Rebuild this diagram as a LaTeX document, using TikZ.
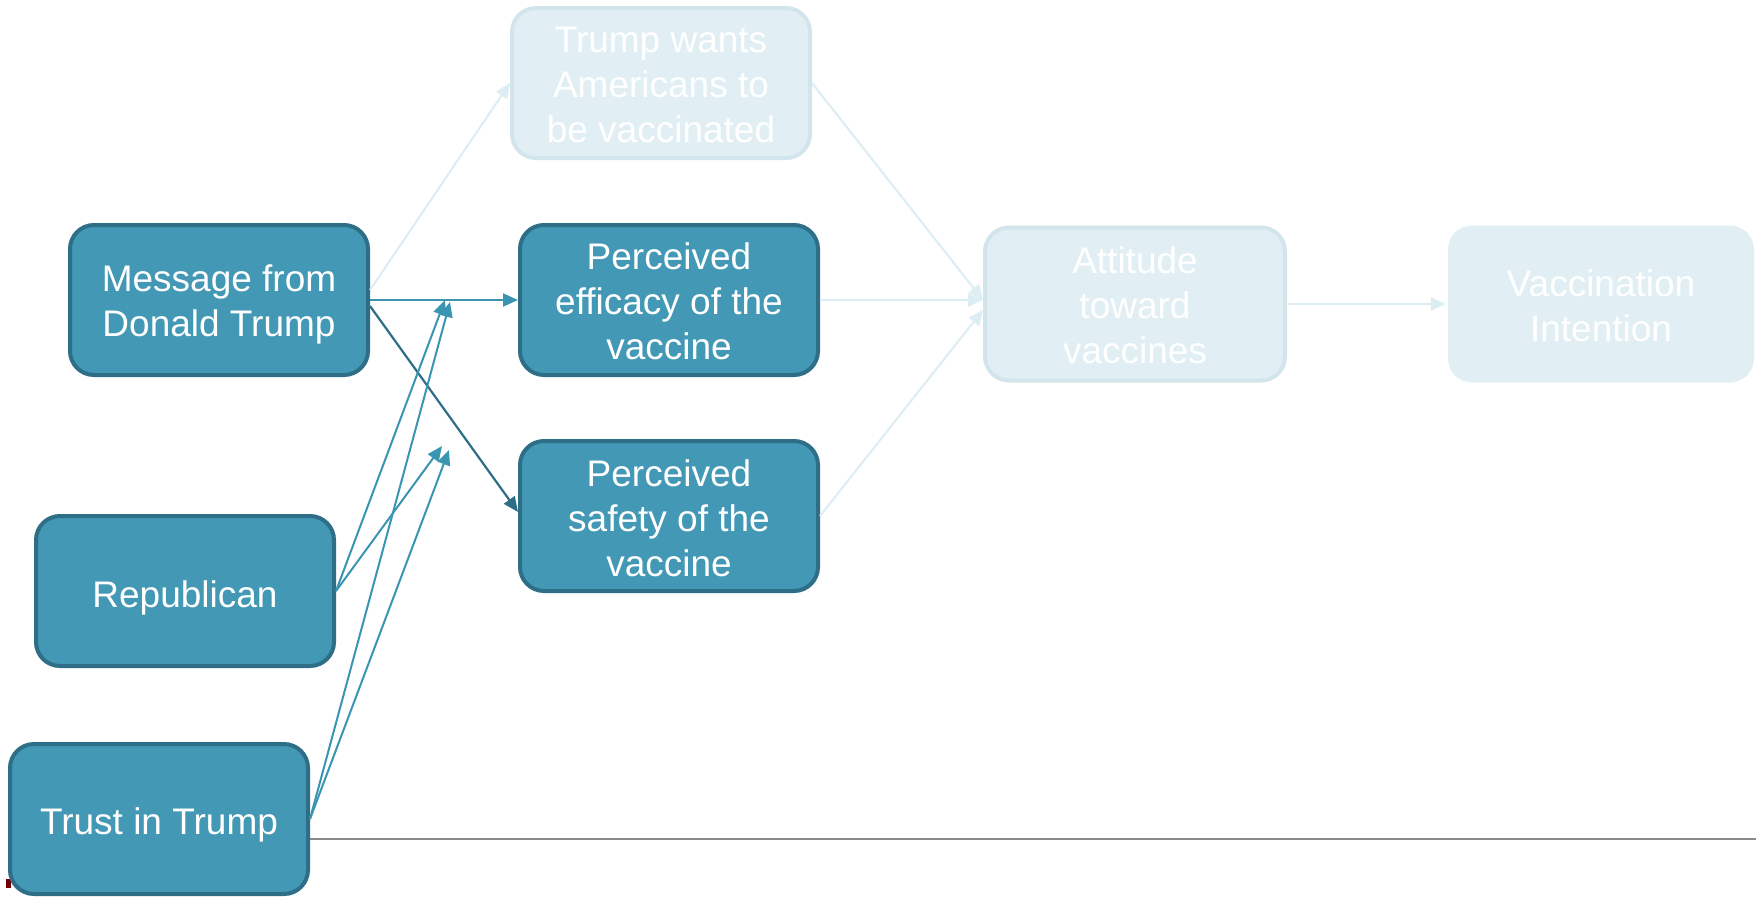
\documentclass[tikz,border=0pt]{standalone}
\usepackage{fontspec}
\setmainfont{Liberation Sans}
\usetikzlibrary{arrows.meta}
\definecolor{boxfill}{HTML}{4298B5}
\definecolor{boxline}{HTML}{2E6E87}
\definecolor{fadefill}{HTML}{E1EFF4}
\definecolor{fadeline}{HTML}{D3E5EC}
\definecolor{fadearrow}{HTML}{DCEDF3}
\definecolor{modarrow}{HTML}{3A95B3}
\definecolor{rulegray}{HTML}{8A8A8A}
% move a line of text down without changing its box
\newcommand\lowered[2]{\raisebox{-#1}[\height][\depth]{#2}}
\tikzset{
  box/.style={rectangle, rounded corners=24pt, draw=boxline, line width=4pt,
    fill=boxfill, text=white, align=center, inner sep=0pt,
    minimum width=298pt, minimum height=150pt,
    font=\fontsize{37}{45}\selectfont},
  fadebox/.style={box, draw=fadeline, fill=fadefill},
  plainbox/.style={box, draw=none, fill=fadefill, minimum width=306pt, minimum height=157pt},
  tip/.style={-{Triangle[length=15pt,width=13pt]}},
  mainarrow/.style={tip, draw=modarrow, line width=2.2pt},
  darkarrow/.style={tip, draw=boxline, fill=boxline, line width=2.2pt},
  modline/.style={tip, draw=modarrow, line width=2pt},
  fadeedge/.style={tip, draw=fadearrow, line width=2pt},
}
\begin{document}
\begin{tikzpicture}[x=1pt, y=-1pt]
\useasboundingbox (0,0) rectangle (1756,897);
\fill[white] (0,0) rectangle (1756,897);

% baseline rule and small mark behind the lowest box
\draw[rulegray, line width=2pt] (309,839) -- (1756,839);
\fill[red!45!black] (6,879) rectangle (11,888);

% boxes
\node[box] (msg) at (219,300) {\lowered{4.5pt}{Message from}\\\lowered{4.5pt}{Donald Trump}};
\node[fadebox] (want) at (661,83) {\lowered{2pt}{Trump wants}\\\lowered{2pt}{Americans to}\\\lowered{2pt}{be vaccinated}};
\node[box] (eff) at (669,300) {\lowered{1.5pt}{Perceived}\\\lowered{1.5pt}{efficacy of the}\\\lowered{1.5pt}{vaccine}};
\node[box] (safe) at (669,516) {\lowered{2.5pt}{Perceived}\\\lowered{2.5pt}{safety of the}\\\lowered{2.5pt}{vaccine}};
\node[fadebox, minimum width=300pt, minimum height=153pt] (att) at (1135,304) {\lowered{1.5pt}{Attitude}\\\lowered{1.5pt}{toward}\\\lowered{1.5pt}{vaccines}};
\node[plainbox] (vac) at (1601,304) {\lowered{2pt}{Vaccination}\\\lowered{2pt}{Intention}};
\node[box] (rep) at (185,591) {\lowered{6.5pt}{Republican}};
\node[box] (trust) at (159,819) {\lowered{5.5pt}{Trust in Trump}};

% points where the moderating paths end
\coordinate (upA) at (445,300);
\coordinate (upB) at (450,302);
\coordinate (loA) at (442,446);
\coordinate (loB) at (449,450);

% faded paths
\draw[fadeedge] ([yshift=10pt]msg.east) -- (want.west);
\draw[fadeedge] (want.east) -- ([yshift=4pt]att.west);
\draw[fadeedge] (eff.east) -- ([yshift=4pt]att.west);
\draw[fadeedge] (safe.east) -- ([yshift=-6pt]att.west);
\draw[fadeedge] (att.east) -- (vac.west);

% direct paths from the message
\draw[mainarrow] (msg.east) -- (eff.west);
\draw[darkarrow] ([yshift=-6pt]msg.east) -- ([yshift=4pt]safe.west);

% moderating paths
\draw[modline] (rep.east) -- (upA);
\draw[modline] (rep.east) -- (loA);
\draw[modline] (trust.east) -- (upB);
\draw[modline] (trust.east) -- (loB);
\end{tikzpicture}
\end{document}
